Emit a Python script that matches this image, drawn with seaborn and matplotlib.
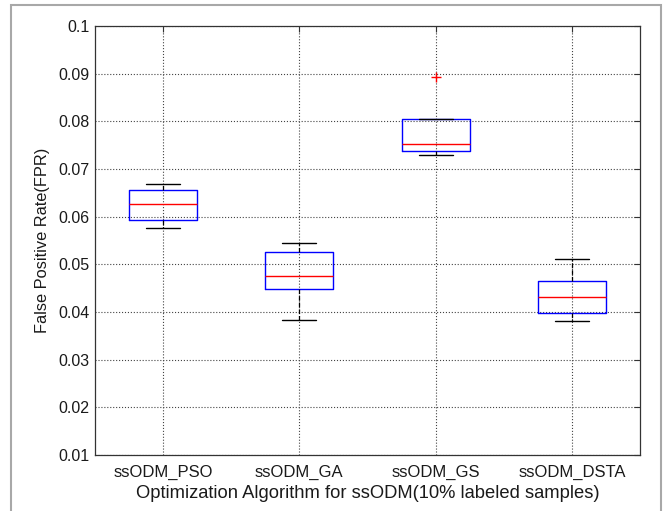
import numpy as np
import pandas as pd
import matplotlib
matplotlib.use("Agg")
import matplotlib.pyplot as plt
import seaborn as sns
from matplotlib.patches import Rectangle

# Data (five-number summaries; GS has one outlier)
algorithms = ["ssODM_PSO", "ssODM_GA", "ssODM_GS", "ssODM_DSTA"]
pso_fpr = [0.0576, 0.0592, 0.0626, 0.0655, 0.0669]
ga_fpr = [0.0384, 0.0448, 0.0476, 0.0525, 0.0545]
gs_fpr = [0.0730, 0.0738, 0.0752, 0.0804, 0.0894]
dsta_fpr = [0.0381, 0.0397, 0.0431, 0.0466, 0.0511]
y_ticks = [0.01, 0.02, 0.03, 0.04, 0.05, 0.06, 0.07, 0.08, 0.09, 0.1]
y_ticklabels = ["0.01", "0.02", "0.03", "0.04", "0.05", "0.06", "0.07", "0.08", "0.09", "0.1"]

df = pd.DataFrame({
    "alg": np.repeat(algorithms, 5),
    "fpr": pso_fpr + ga_fpr + gs_fpr + dsta_fpr,
})

sns.set_style("white")
plt.rcParams["font.family"] = ["Liberation Sans", "DejaVu Sans"]

fig = plt.figure(figsize=(6.64, 5.11), dpi=100)
ax = fig.add_axes([95 / 664, 1 - 455 / 511, 545 / 664, 429 / 511])

sns.boxplot(
    data=df, x="alg", y="fpr", order=algorithms, ax=ax,
    width=0.5, whis=1.2, fill=False, linecolor="blue", linewidth=1.0,
    boxprops=dict(color="blue", linewidth=1.0),
    medianprops=dict(color="red", linewidth=1.0),
    whiskerprops=dict(color="black", linewidth=0.9, linestyle="--"),
    capprops=dict(color="black", linewidth=1.0),
    flierprops=dict(marker="+", markeredgecolor="red", markersize=7, markeredgewidth=1.0),
)

ax.set_xlim(-0.5, 3.5)
ax.set_ylim(0.01, 0.1)
ax.set_yticks(y_ticks)
ax.set_yticklabels(y_ticklabels)
ax.set_xticks(range(len(algorithms)))
ax.set_xticklabels(algorithms)

ax.grid(True, color="#444444", linestyle=":", linewidth=0.8)
ax.set_axisbelow(True)

for sp in ax.spines.values():
    sp.set_visible(True)
    sp.set_color("#333333")
    sp.set_linewidth(0.9)

ax.tick_params(axis="both", direction="in", length=4, width=0.8, color="#333333",
               labelsize=11.5, labelcolor="#1a1a1a", top=True, right=True)
ax.tick_params(axis="x", labelsize=12, pad=7)
ax.tick_params(axis="y", pad=4)

ax.set_xlabel("Optimization Algorithm for ssODM(10% labeled samples)", fontsize=13.2,
              color="#1a1a1a", labelpad=4)
ax.set_ylabel("False Positive Rate(FPR)", fontsize=11.8, color="#1a1a1a", labelpad=6)

# outer gray frame around the figure
fig.patches.append(Rectangle((10.5 / 664, -0.02), 650 / 664, 1.02 - 4.5 / 511,
                             transform=fig.transFigure, fill=False,
                             edgecolor="#a8a8a8", linewidth=1.5))

fig.savefig("out.png", dpi=100)
